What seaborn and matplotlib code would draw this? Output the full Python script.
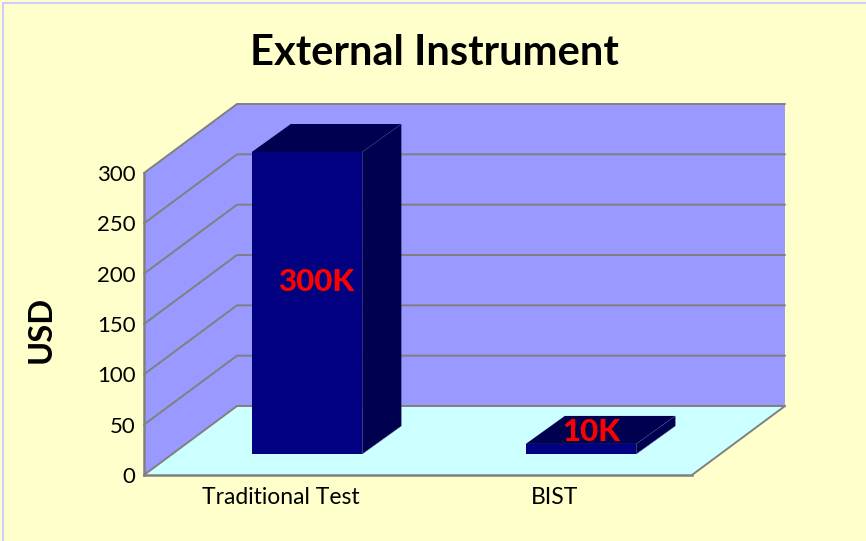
import matplotlib
matplotlib.use('Agg')
import matplotlib.pyplot as plt
from matplotlib.patches import Polygon
import pandas as pd
import seaborn as sns

categories = ['Traditional Test', 'BIST']
costs = [300, 10]
bar_labels = ['300K', '10K']
y_ticks = [0, 50, 100, 150, 200, 250, 300]

YELLOW = '#FFFFCC'
WALL = '#9999FF'
FLOOR = '#CCFFFF'
GRID = '#808080'
BAR_FRONT = '#000080'
BAR_SHADE = '#000050'

sns.set_theme(style='white')
plt.rcParams['font.family'] = ['Lato', 'DejaVu Sans']

fig = plt.figure(figsize=(8.66, 5.41), dpi=100, facecolor=YELLOW)
W, H = 866, 541

# front plane of the fake 3d box, in figure pixels
ax = fig.add_axes([144 / W, (H - 475) / H, 548 / W, 302 / H])
ax.patch.set_alpha(0)

df = pd.DataFrame({'test': categories, 'cost': costs})
sns.barplot(data=df, x='test', y='cost', color=BAR_FRONT, saturation=1, width=0.403, ax=ax, zorder=5,
            edgecolor='none', linewidth=0)
ax.set_xlim(-0.5, 1.5)
ax.set_ylim(0, 300)

px_x = 548 / 2
px_y = 302 / 300


def shifted(x, y, dx, dy):
    # data point moved by some pixels, used for the depth of the chart
    return (x + dx / px_x, y + dy / px_y)


def face(points, color, zorder, **kwargs):
    ax.add_patch(Polygon(points, closed=True, facecolor=color, clip_on=False, zorder=zorder, **kwargs))


x0, x1 = ax.get_xlim()
top = y_ticks[-1]
depth = (93, 69)

# walls and floor
face([(x0, 0), shifted(x0, 0, *depth), shifted(x0, top, *depth), (x0, top)], WALL, 1, edgecolor='none')
face([shifted(x0, 0, *depth), shifted(x1, 0, *depth), shifted(x1, top, *depth), shifted(x0, top, *depth)],
     WALL, 1, edgecolor='none')
face([(x0, 0), (x1, 0), shifted(x1, 0, *depth), shifted(x0, 0, *depth)], FLOOR, 1, edgecolor='none')

# grid lines run along the side wall and then along the back wall
for tick in y_ticks:
    a = shifted(x0, tick, *depth)
    b = shifted(x1, tick, *depth)
    ax.plot([x0, a[0], b[0]], [tick, a[1], b[1]], color=GRID, lw=1.4, clip_on=False, zorder=2,
            solid_joinstyle='miter')
c = shifted(x1, 0, *depth)
ax.plot([x1, c[0]], [0, c[1]], color=GRID, lw=1.4, clip_on=False, zorder=2)

# move the bars back from the front plane and give them a top and a side
bar_shift = (26, 21)
bar_depth = (39, 28)
for bar in ax.patches[:len(categories)]:
    left, y_start = shifted(bar.get_x(), 0, *bar_shift)
    right = left + bar.get_width()
    y_end = y_start + bar.get_height()
    bar.set_x(left)
    bar.set_y(y_start)
    bar.set_clip_on(False)
    face([(left, y_end), (right, y_end), shifted(right, y_end, *bar_depth), shifted(left, y_end, *bar_depth)],
         BAR_SHADE, 4, edgecolor='none')
    face([(right, y_start), shifted(right, y_start, *bar_depth), shifted(right, y_end, *bar_depth), (right, y_end)],
         BAR_SHADE, 4, edgecolor='#4A4A80', lw=0.3)

ax.text(*shifted(0, 0, 35, 193), bar_labels[0], color='#FF0000', fontsize=22.5, fontweight='black',
        ha='center', va='center', zorder=7, clip_on=False)
ax.text(*shifted(1, 0, 36, 43), bar_labels[1], color='#FF0000', fontsize=22.5, fontweight='black',
        ha='center', va='center', zorder=7, clip_on=False)

ax.set_yticks(y_ticks)
ax.tick_params(axis='y', length=0, pad=6, labelsize=16, labelcolor='black')
ax.tick_params(axis='x', length=0, pad=9, labelsize=16.5, labelcolor='black')
ax.set_xlabel('')
ax.set_ylabel('')
sns.despine(ax=ax, top=True, right=True)
for side in ['left', 'bottom']:
    ax.spines[side].set_color(GRID)
    ax.spines[side].set_linewidth(1.8)
    ax.spines[side].set_zorder(3)

fig.text(434 / W, 1 - 53 / H, 'External Instrument', fontsize=30, fontweight='bold', color='black',
         ha='center', va='center')
fig.text(41 / W, 1 - 329 / H, 'USD', fontsize=23.5, fontweight='bold', color='black', rotation=90,
         ha='center', va='center')

# thin frame of the slide
fig.add_artist(plt.Line2D([3 / W, 3 / W], [0, 1 - 3 / H], color='#CCCCFF', lw=1.5))
fig.add_artist(plt.Line2D([3 / W, 1], [1 - 3 / H, 1 - 3 / H], color='#CCCCFF', lw=1.5))

fig.savefig('out.png', dpi=100, facecolor=fig.get_facecolor())
